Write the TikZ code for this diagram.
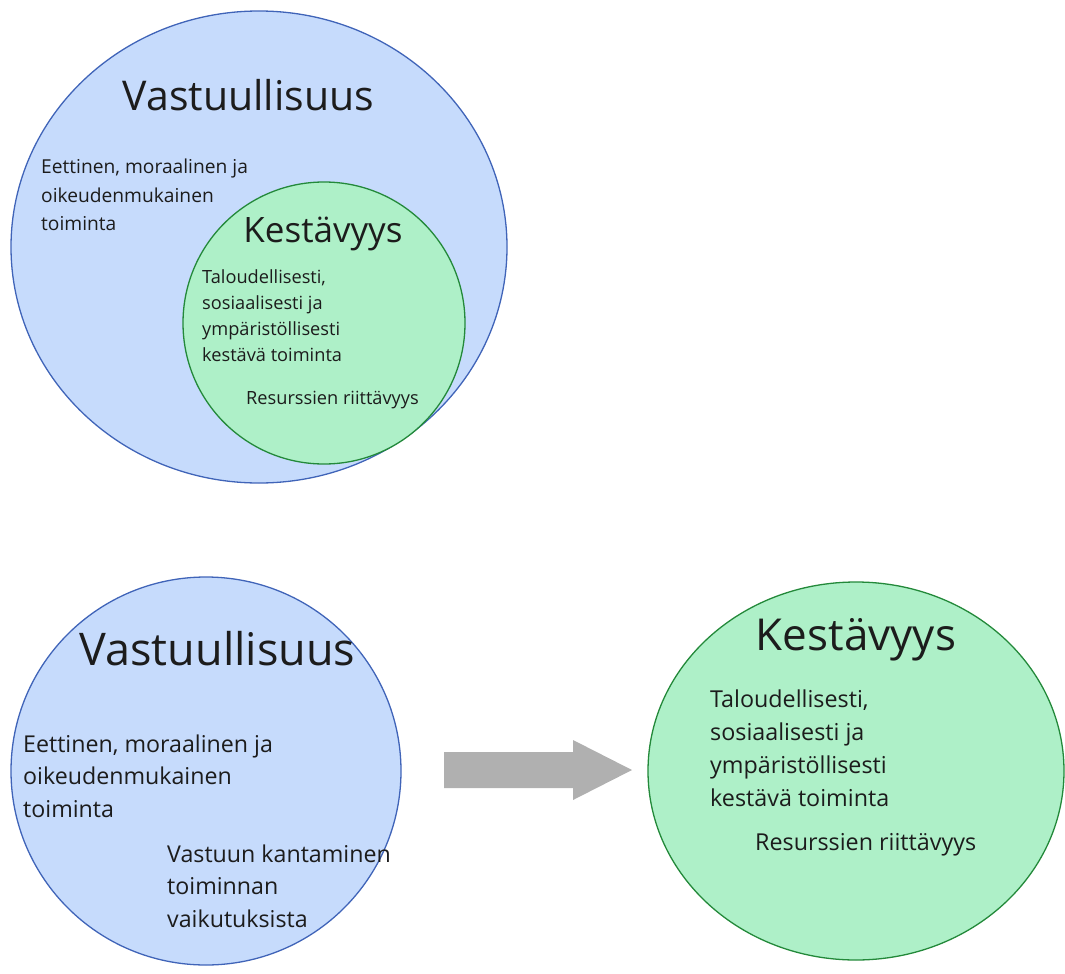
\documentclass[tikz,border=0pt]{standalone}
\usepackage{fontspec}
\setmainfont{Open Sans}
\definecolor{bfill}{HTML}{C6DBFC}
\definecolor{bline}{HTML}{4064B8}
\definecolor{gfill}{HTML}{AEF0C8}
\definecolor{gline}{HTML}{23893A}
\definecolor{arr}{HTML}{B0B0B0}
\definecolor{txt}{HTML}{1C1C1C}
\begin{document}
\begin{tikzpicture}[x=1pt,y=-1pt,
  bcirc/.style={fill=bfill,draw=bline,line width=1.3pt},
  gcirc/.style={fill=gfill,draw=gline,line width=1.3pt},
  body/.style={anchor=west,inner sep=0pt,align=left,text=txt},
  title/.style={anchor=base,inner sep=0pt,text=txt}]
\useasboundingbox (0,0) rectangle (1065,974);
% top diagram
\draw[bcirc] (259,247) ellipse [x radius=248, y radius=236];
\draw[gcirc] (324,323) ellipse [x radius=141, y radius=141];
\node[title,font=\fontsize{41}{49}\selectfont] (v1) at (248.5,110) {Vastuullisuus};
\node[body,font=\fontsize{19.2}{28.5}\selectfont] (e1) at (41,195) {Eettinen, moraalinen ja\\oikeudenmukainen\\toiminta};
\node[title,font=\fontsize{35}{42}\selectfont] (k1) at (323,242) {Kestävyys};
\node[body,font=\fontsize{18.2}{26}\selectfont] (t1) at (202,316) {Taloudellisesti,\\sosiaalisesti ja\\ympäristöllisesti\\kestävä toiminta};
\node[body,font=\fontsize{18.2}{26}\selectfont] (r1) at (246,400) {Resurssien riittävyys};
% bottom left
\draw[bcirc] (206,771) ellipse [x radius=195, y radius=194];
\node[title,font=\fontsize{45}{54}\selectfont] (v2) at (217.5,665) {Vastuullisuus};
\node[body,font=\fontsize{23.2}{32.5}\selectfont] (e2) at (23,776) {Eettinen, moraalinen ja\\oikeudenmukainen\\toiminta};
\node[body,font=\fontsize{23.2}{32.5}\selectfont] (va2) at (167,886) {Vastuun kantaminen\\toiminnan\\vaikutuksista};
% arrow
\fill[arr] (444,752) -- (573,752) -- (573,740) -- (632,770) -- (573,800) -- (573,788) -- (444,788) -- cycle;
% bottom right
\draw[gcirc] (856,771) ellipse [x radius=208, y radius=189];
\node[title,font=\fontsize{44}{52}\selectfont] (k2) at (856,650) {Kestävyys};
\node[body,font=\fontsize{23.3}{33}\selectfont] (t2) at (710,748) {Taloudellisesti,\\sosiaalisesti ja\\ympäristöllisesti\\kestävä toiminta};
\node[body,font=\fontsize{23.3}{33}\selectfont] (r2) at (755,845) {Resurssien riittävyys};
\end{tikzpicture}
\end{document}
